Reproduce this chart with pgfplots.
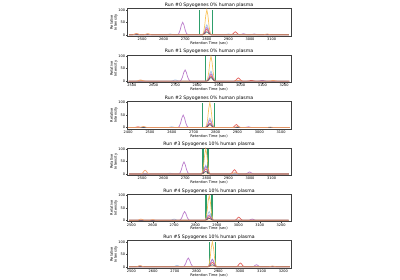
\documentclass[border=0pt]{standalone}
\usepackage{pgfplots}
\pgfplotsset{compat=1.18}
\usepackage{fontspec}
\setmainfont{DejaVu Sans}
\definecolor{cY}{HTML}{F9BE4E}
\definecolor{cLB}{HTML}{9CBCE4}
\definecolor{cP}{HTML}{B46FC6}
\definecolor{cR}{HTML}{E0504A}
\definecolor{cD}{HTML}{3D5566}
\definecolor{cO}{HTML}{F29A63}
\definecolor{cG}{HTML}{2E9E6B}
\pgfplotsset{
  every axis title/.style={at={(0.5,1)}, anchor=south, inner sep=0.8bp, font=\fontsize{4.6bp}{5bp}\selectfont},
  runax/.style={
    scale only axis, width=164bp, height=27.5bp, anchor=south west,
    ymin=-5, ymax=105, ytick={0,50,100},
    xtick={2400,2500,...,3200},
    tick align=outside, xtick pos=bottom, ytick pos=left,
    major tick length=1.2bp,
    axis line style={line width=0.35bp, black!75},
    every tick/.style={line width=0.3bp, black!75},
    tick label style={font=\fontsize{3.5bp}{4bp}\selectfont, inner sep=0.6bp},
    /pgf/number format/assume math mode=true,
    /pgf/number format/1000 sep={},
    scaled x ticks=false,
    xlabel={Retention Time (sec)},
    ylabel={Relative\\Intensity},
    label style={font=\fontsize{3.6bp}{4bp}\selectfont},
    xlabel style={inner sep=0.5bp, yshift=0.3bp},
    ylabel style={align=center, inner sep=0.5bp, yshift=-0.5bp},
    clip=true,
    every axis plot/.style={line width=0.7bp, opacity=0.9},
  },
  gline/.style={cG, line width=1bp, opacity=1},
  gthick/.style={cG, line width=1.6bp, opacity=1},
}
\begin{document}
\begin{tikzpicture}[x=1bp,y=1bp]
\useasboundingbox (0,0) rectangle (400,280);
% ---------------- Run #0
\begin{axis}[runax, at={(127bp,244bp)}, xmin=2430, xmax=3190, title={Run \#0 Spyogenes 0\% human plasma}]
\addplot[gline] coordinates {(2767,0)(2767,100)};
\addplot[gline] coordinates {(2827,0)(2827,100)};
\addplot[cY] coordinates {(2440,0)(2510,0)(2515,0.3)(2520,1.1)(2525,2.3)(2530,3)(2535,2.3)(2540,1.1)(2545,0.3)(2550,0)(2780,0)(2785,10)(2790,36)(2795,77)(2800,100)(2805,77)(2810,36)(2815,10)(2820,0)(3180,0)};
\addplot[cLB] coordinates {(2440,0)(2610,0)(2615,0.3)(2620,1.1)(2625,2.3)(2630,3)(2635,2.3)(2640,1.1)(2645,0.3)(2650,0)(2780,0)(2785,4)(2790,14.4)(2795,30.8)(2800,40)(2805,30.8)(2810,14.4)(2815,4)(2820,0)(2880,0)(2885,0.3)(2890,1.1)(2895,2.3)(2900,3)(2905,2.3)(2910,1.1)(2915,0.3)(2920,0)(3180,0)};
\addplot[cP] coordinates {(2440,0)(2664,0)(2670,5)(2676,18)(2682,38.5)(2688,50)(2694,38.5)(2700,18)(2706,5)(2712,0)(2780,0)(2785,3)(2790,10.8)(2795,23.1)(2800,30)(2805,23.1)(2810,10.8)(2815,3)(2820,0)(2950,0)(2955,0.4)(2960,1.4)(2965,3.1)(2970,4)(2975,3.1)(2980,1.4)(2985,0.4)(2990,0)(3000,0)(3005,0.3)(3010,1.1)(3015,2.3)(3020,3)(3025,2.3)(3030,1.1)(3035,0.3)(3040,0)(3180,0)};
\addplot[cR] coordinates {(2440,0)(2450,0)(2455,0.3)(2460,1.1)(2465,2.3)(2470,3)(2475,2.3)(2480,1.1)(2485,0.3)(2490,0)(2780,0)(2785,2.2)(2790,7.9)(2795,16.9)(2800,22)(2805,16.9)(2810,7.9)(2815,2.2)(2820,0)(2912,0)(2917,1.2)(2922,4.3)(2927,9.2)(2932,12)(2937,9.2)(2942,4.3)(2947,1.2)(2952,0)(3180,0)};
\addplot[cD] coordinates {(2440,0)(2780,0)(2785,1.2)(2790,4.3)(2795,9.2)(2800,12)(2805,9.2)(2810,4.3)(2815,1.2)(2820,0)(3180,0)};
\addplot[cO] coordinates {(2440,0)(2455,0)(2460,0.5)(2465,1.8)(2470,3.9)(2475,5)(2480,3.9)(2485,1.8)(2490,0.5)(2495,0)(2505,0)(2510,0.4)(2515,1.4)(2520,3.1)(2525,4)(2530,3.1)(2535,1.4)(2540,0.4)(2545,0)(3060,0)(3065,0.3)(3070,1.1)(3075,2.3)(3080,3)(3085,2.3)(3090,1.1)(3095,0.3)(3100,0)(3180,0)};
\end{axis}
% ---------------- Run #1
\begin{axis}[runax, at={(127bp,197.6bp)}, xmin=2478, xmax=3232, title={Run \#1 Spyogenes 0\% human plasma}]
\addplot[gline] coordinates {(2841,0)(2841,100)};
\addplot[gline] coordinates {(2886,0)(2886,100)};
\addplot[cY] coordinates {(2485,0)(2525,0)(2530,0.3)(2535,1.1)(2540,2.3)(2545,3)(2550,2.3)(2555,1.1)(2560,0.3)(2565,0)(2844,0)(2849,10)(2854,36)(2859,77)(2864,100)(2869,77)(2874,36)(2879,10)(2884,0)(3225,0)};
\addplot[cLB] coordinates {(2485,0)(2680,0)(2685,0.5)(2690,1.8)(2695,3.9)(2700,5)(2705,3.9)(2710,1.8)(2715,0.5)(2720,0)(2844,0)(2849,4)(2854,14.4)(2859,30.8)(2864,40)(2869,30.8)(2874,14.4)(2879,4)(2884,0)(3225,0)};
\addplot[cP] coordinates {(2485,0)(2721,0)(2727,4.5)(2733,16.2)(2739,34.7)(2745,45)(2751,34.7)(2757,16.2)(2763,4.5)(2769,0)(2844,0)(2849,3)(2854,10.8)(2859,23.1)(2864,30)(2869,23.1)(2874,10.8)(2879,3)(2884,0)(3080,0)(3085,0.3)(3090,1.1)(3095,2.3)(3100,3)(3105,2.3)(3110,1.1)(3115,0.3)(3120,0)(3225,0)};
\addplot[cR] coordinates {(2485,0)(2844,0)(2849,2.2)(2854,7.9)(2859,16.9)(2864,22)(2869,16.9)(2874,7.9)(2879,2.2)(2884,0)(2970,0)(2975,1.3)(2980,4.7)(2985,10)(2990,13)(2995,10)(3000,4.7)(3005,1.3)(3010,0)(3030,0)(3035,0.3)(3040,1.1)(3045,2.3)(3050,3)(3055,2.3)(3060,1.1)(3065,0.3)(3070,0)(3225,0)};
\addplot[cD] coordinates {(2485,0)(2844,0)(2849,1.5)(2854,5.4)(2859,11.6)(2864,15)(2869,11.6)(2874,5.4)(2879,1.5)(2884,0)(3225,0)};
\addplot[cO] coordinates {(2485,0)(2520,0)(2525,0.5)(2530,1.8)(2535,3.9)(2540,5)(2545,3.9)(2550,1.8)(2555,0.5)(2560,0)(2970,0)(2975,0.3)(2980,1.1)(2985,2.3)(2990,3)(2995,2.3)(3000,1.1)(3005,0.3)(3010,0)(3130,0)(3135,0.3)(3140,1.1)(3145,2.3)(3150,3)(3155,2.3)(3160,1.1)(3165,0.3)(3170,0)(3225,0)};
\end{axis}
% ---------------- Run #2
\begin{axis}[runax, at={(127bp,151.2bp)}, xmin=2395, xmax=3145, title={Run \#2 Spyogenes 0\% human plasma}]
\addplot[gline] coordinates {(2742,0)(2742,100)};
\addplot[gline] coordinates {(2796,0)(2796,100)};
\addplot[cY] coordinates {(2400,0)(2450,0)(2455,0.3)(2460,1.1)(2465,2.3)(2470,3)(2475,2.3)(2480,1.1)(2485,0.3)(2490,0)(2754,0)(2759,10)(2764,36)(2769,77)(2774,100)(2779,77)(2784,36)(2789,10)(2794,0)(3140,0)};
\addplot[cLB] coordinates {(2400,0)(2580,0)(2585,0.3)(2590,1.1)(2595,2.3)(2600,3)(2605,2.3)(2610,1.1)(2615,0.3)(2620,0)(2754,0)(2759,3.8)(2764,13.7)(2769,29.3)(2774,38)(2779,29.3)(2784,13.7)(2789,3.8)(2794,0)(3140,0)};
\addplot[cP] coordinates {(2400,0)(2628,0)(2634,5)(2640,18)(2646,38.5)(2652,50)(2658,38.5)(2664,18)(2670,5)(2676,0)(2754,0)(2759,3)(2764,10.8)(2769,23.1)(2774,30)(2779,23.1)(2784,10.8)(2789,3)(2794,0)(2930,0)(2935,0.3)(2940,1.1)(2945,2.3)(2950,3)(2955,2.3)(2960,1.1)(2965,0.3)(2970,0)(3140,0)};
\addplot[cR] coordinates {(2400,0)(2425,0)(2430,0.3)(2435,1.1)(2440,2.3)(2445,3)(2450,2.3)(2455,1.1)(2460,0.3)(2465,0)(2754,0)(2759,1.8)(2764,6.5)(2769,13.9)(2774,18)(2779,13.9)(2784,6.5)(2789,1.8)(2794,0)(2875,0)(2880,1.2)(2885,4.3)(2890,9.2)(2895,12)(2900,9.2)(2905,4.3)(2910,1.2)(2915,0)(3140,0)};
\addplot[cD] coordinates {(2400,0)(2754,0)(2759,1.2)(2764,4.3)(2769,9.2)(2774,12)(2779,9.2)(2784,4.3)(2789,1.2)(2794,0)(3140,0)};
\addplot[cO] coordinates {(2400,0)(2450,0)(2455,0.4)(2460,1.4)(2465,3.1)(2470,4)(2475,3.1)(2480,1.4)(2485,0.4)(2490,0)(2880,0)(2885,0.4)(2890,1.4)(2895,3.1)(2900,4)(2905,3.1)(2910,1.4)(2915,0.4)(2920,0)(3030,0)(3035,0.2)(3040,0.7)(3045,1.5)(3050,2)(3055,1.5)(3060,0.7)(3065,0.2)(3070,0)(3140,0)};
\end{axis}
% ---------------- Run #3
\begin{axis}[runax, at={(127bp,104.8bp)}, xmin=2430, xmax=3190, title={Run \#3 Spyogenes 10\% human plasma}]
\addplot[gthick] coordinates {(2781,0)(2781,100)};
\addplot[gthick] coordinates {(2806,0)(2806,100)};
\addplot[cY] coordinates {(2440,0)(2775,0)(2780,10)(2785,36)(2790,77)(2795,100)(2800,77)(2805,36)(2810,10)(2815,0)(3180,0)};
\addplot[cLB] coordinates {(2440,0)(2610,0)(2615,0.3)(2620,1.1)(2625,2.3)(2630,3)(2635,2.3)(2640,1.1)(2645,0.3)(2650,0)(2775,0)(2780,3.5)(2785,12.6)(2790,27)(2795,35)(2800,27)(2805,12.6)(2810,3.5)(2815,0)(3180,0)};
\addplot[cP] coordinates {(2440,0)(2670,0)(2676,4.8)(2682,17.3)(2688,37)(2694,48)(2700,37)(2706,17.3)(2712,4.8)(2718,0)(2775,0)(2780,3)(2785,10.8)(2790,23.1)(2795,30)(2800,23.1)(2805,10.8)(2810,3)(2815,0)(2978,0)(2983,0.8)(2988,2.9)(2993,6.2)(2998,8)(3003,6.2)(3008,2.9)(3013,0.8)(3018,0)(3180,0)};
\addplot[cR] coordinates {(2440,0)(2775,0)(2780,2)(2785,7.2)(2790,15.4)(2795,20)(2800,15.4)(2805,7.2)(2810,2)(2815,0)(2908,0)(2913,1.7)(2918,6.1)(2923,13.1)(2928,17)(2933,13.1)(2938,6.1)(2943,1.7)(2948,0)(3180,0)};
\addplot[cD] coordinates {(2440,0)(2775,0)(2780,1)(2785,3.6)(2790,7.7)(2795,10)(2800,7.7)(2805,3.6)(2810,1)(2815,0)(3180,0)};
\addplot[cO] coordinates {(2440,0)(2494,0)(2499,1.5)(2504,5.4)(2509,11.6)(2514,15)(2519,11.6)(2524,5.4)(2529,1.5)(2534,0)(2910,0)(2915,0.5)(2920,1.8)(2925,3.9)(2930,5)(2935,3.9)(2940,1.8)(2945,0.5)(2950,0)(3180,0)};
\end{axis}
% ---------------- Run #4
\begin{axis}[runax, at={(127bp,58.4bp)}, xmin=2480, xmax=3246, title={Run \#4 Spyogenes 10\% human plasma}]
\addplot[gthick] coordinates {(2850,0)(2850,100)};
\addplot[gthick] coordinates {(2878,0)(2878,100)};
\addplot[cY] coordinates {(2490,0)(2844,0)(2849,10)(2854,36)(2859,77)(2864,100)(2869,77)(2874,36)(2879,10)(2884,0)(3235,0)};
\addplot[cLB] coordinates {(2490,0)(2680,0)(2685,0.5)(2690,1.8)(2695,3.9)(2700,5)(2705,3.9)(2710,1.8)(2715,0.5)(2720,0)(2844,0)(2849,3.5)(2854,12.6)(2859,27)(2864,35)(2869,27)(2874,12.6)(2879,3.5)(2884,0)(3235,0)};
\addplot[cP] coordinates {(2490,0)(2725,0)(2731,3.5)(2737,12.6)(2743,27)(2749,35)(2755,27)(2761,12.6)(2767,3.5)(2773,0)(2844,0)(2849,2.2)(2854,7.9)(2859,16.9)(2864,22)(2869,16.9)(2874,7.9)(2879,2.2)(2884,0)(3045,0)(3050,0.5)(3055,1.8)(3060,3.9)(3065,5)(3070,3.9)(3075,1.8)(3080,0.5)(3085,0)(3235,0)};
\addplot[cR] coordinates {(2490,0)(2844,0)(2849,1.5)(2854,5.4)(2859,11.6)(2864,15)(2869,11.6)(2874,5.4)(2879,1.5)(2884,0)(2982,0)(2987,1.3)(2992,4.7)(2997,10)(3002,13)(3007,10)(3012,4.7)(3017,1.3)(3022,0)(3235,0)};
\addplot[cD] coordinates {(2490,0)(2844,0)(2849,0.8)(2854,2.9)(2859,6.2)(2864,8)(2869,6.2)(2874,2.9)(2879,0.8)(2884,0)(3235,0)};
\addplot[cO] coordinates {(2490,0)(2525,0)(2530,0.5)(2535,1.8)(2540,3.9)(2545,5)(2550,3.9)(2555,1.8)(2560,0.5)(2565,0)(2580,0)(2585,0.3)(2590,1.1)(2595,2.3)(2600,3)(2605,2.3)(2610,1.1)(2615,0.3)(2620,0)(3235,0)};
\end{axis}
% ---------------- Run #5
\begin{axis}[runax, at={(127bp,12bp)}, xmin=2480, xmax=3235, title={Run \#5 Spyogenes 10\% human plasma}]
\addplot[gthick] coordinates {(2860,0)(2860,100)};
\addplot[gthick] coordinates {(2887,0)(2887,100)};
\addplot[cY] coordinates {(2490,0)(2853,0)(2858,10)(2863,36)(2868,77)(2873,100)(2878,77)(2883,36)(2888,10)(2893,0)(3230,0)};
\addplot[cLB] coordinates {(2490,0)(2690,0)(2695,0.5)(2700,1.8)(2705,3.9)(2710,5)(2715,3.9)(2720,1.8)(2725,0.5)(2730,0)(2853,0)(2858,3)(2863,10.8)(2868,23.1)(2873,30)(2878,23.1)(2883,10.8)(2888,3)(2893,0)(3230,0)};
\addplot[cP] coordinates {(2490,0)(2738,0)(2744,3.5)(2750,12.6)(2756,27)(2762,35)(2768,27)(2774,12.6)(2780,3.5)(2786,0)(2853,0)(2858,3)(2863,10.8)(2868,23.1)(2873,30)(2878,23.1)(2883,10.8)(2888,3)(2893,0)(3056,0)(3061,0.8)(3066,2.9)(3071,6.2)(3076,8)(3081,6.2)(3086,2.9)(3091,0.8)(3096,0)(3230,0)};
\addplot[cR] coordinates {(2490,0)(2853,0)(2858,1.8)(2863,6.5)(2868,13.9)(2873,18)(2878,13.9)(2883,6.5)(2888,1.8)(2893,0)(2982,0)(2987,1.5)(2992,5.4)(2997,11.6)(3002,15)(3007,11.6)(3012,5.4)(3017,1.5)(3022,0)(3230,0)};
\addplot[cD] coordinates {(2490,0)(2853,0)(2858,0.8)(2863,2.9)(2868,6.2)(2873,8)(2878,6.2)(2883,2.9)(2888,0.8)(2893,0)(3230,0)};
\addplot[cO] coordinates {(2490,0)(2520,0)(2525,0.5)(2530,1.8)(2535,3.9)(2540,5)(2545,3.9)(2550,1.8)(2555,0.5)(2560,0)(3130,0)(3135,0.3)(3140,1.1)(3145,2.3)(3150,3)(3155,2.3)(3160,1.1)(3165,0.3)(3170,0)(3230,0)};
\end{axis}
\end{tikzpicture}
\end{document}
